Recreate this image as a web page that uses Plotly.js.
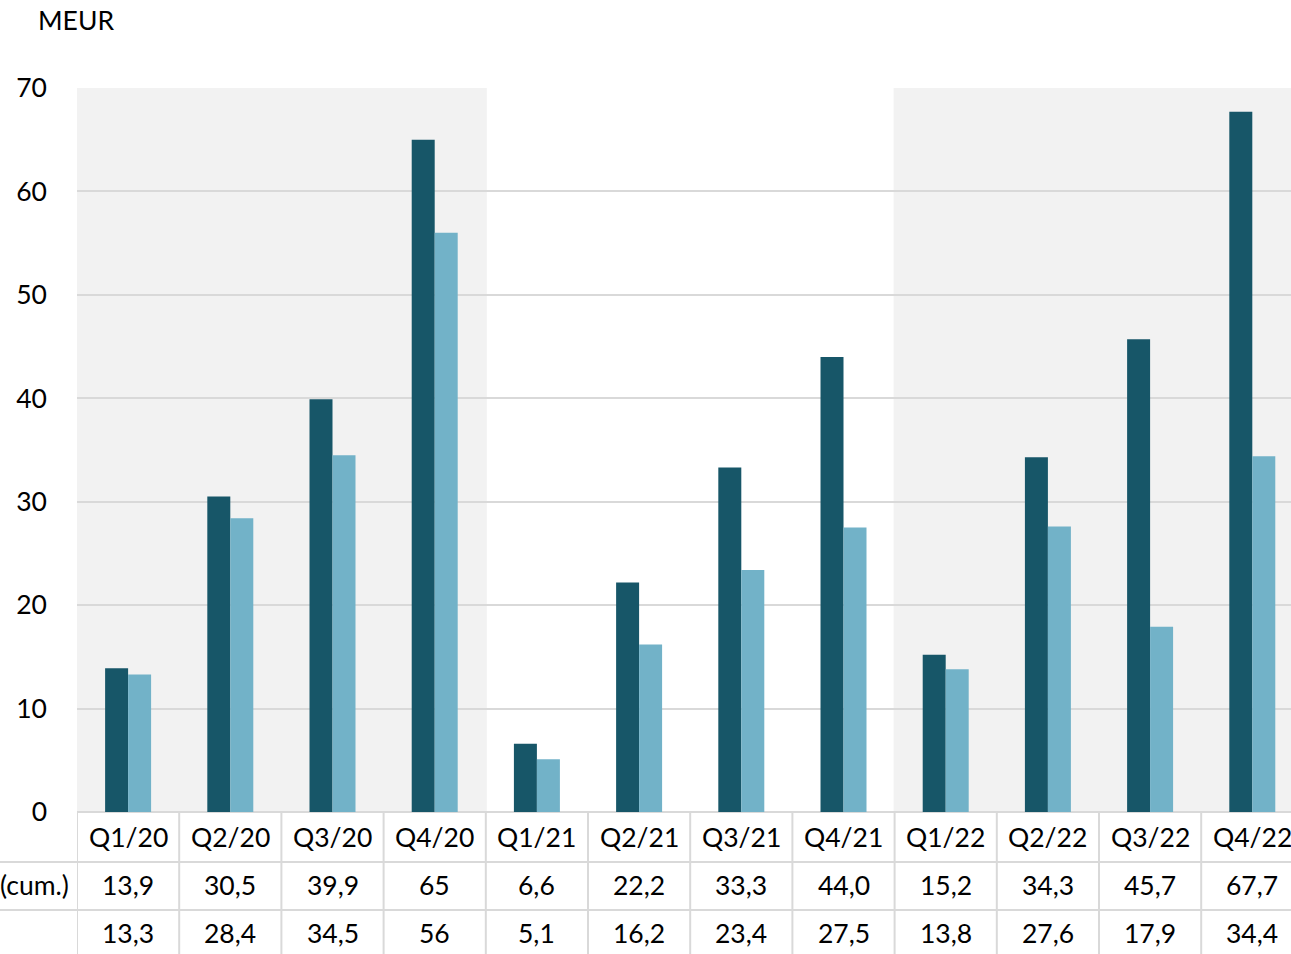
<!DOCTYPE html>
<html>
<head>
<meta charset="utf-8">
<script src="https://cdn.plot.ly/plotly-3.0.1.min.js"></script>
<style>html,body{margin:0;padding:0;background:#fff;}#chart{width:1291px;height:954px;}</style>
</head>
<body>
<div id="chart"></div>
<script>
var categories = ["Q1/20","Q2/20","Q3/20","Q4/20","Q1/21","Q2/21","Q3/21","Q4/21","Q1/22","Q2/22","Q3/22","Q4/22"];
var seriesCum = [13.9,30.5,39.9,65,6.6,22.2,33.3,44.0,15.2,34.3,45.7,67.7];
var seriesSecond = [13.3,28.4,34.5,56,5.1,16.2,23.4,27.5,13.8,27.6,17.9,34.4];
var row1Labels = ["13,9","30,5","39,9","65","6,6","22,2","33,3","44,0","15,2","34,3","45,7","67,7"];
var row2Labels = ["13,3","28,4","34,5","56","5,1","16,2","23,4","27,5","13,8","27,6","17,9","34,4"];
var rowNames = ["(cum.)", ""];
var yTicks = [0,10,20,30,40,50,60,70];
var unitLabel = "MEUR";

var FONT = "Lato, 'Open Sans', sans-serif";
var FS = 26.5;
var W = 1291, H = 954, ML = 77, MR = 0, MT = 88, MB = 142;
var plotH = H - MT - MB, plotW = W - ML - MR;
var catW = 102.2;
var xMax = -0.5 + plotW / catW;
function py(px){ return (H - MB - px) / plotH; }   // pixel y -> paper y
function pxp(px){ return (px - ML) / plotW; }       // pixel x -> paper x

var idx = categories.map(function(_, i){ return i; });
var traces = [
  {type:"bar", x: idx, y: seriesCum, marker:{color:"#175668"}, name:"cum", hoverinfo:"none"},
  {type:"bar", x: idx, y: seriesSecond, marker:{color:"#72b2c8"}, name:"second", hoverinfo:"none"}
];

var shapes = [
  {type:"rect", layer:"below", xref:"x", yref:"paper", x0:-0.5, x1:3.51, y0:0, y1:1, fillcolor:"#f2f2f2", line:{width:0}},
  {type:"rect", layer:"below", xref:"x", yref:"paper", x0:7.49, x1:xMax, y0:0, y1:1, fillcolor:"#f2f2f2", line:{width:0}}
];
var lineColor = "#d9d9d9";
for (var k = 0; k < categories.length; k++) {
  shapes.push({type:"line", xref:"x", yref:"paper", x0:k-0.5, x1:k-0.5, y0:0, y1:py(H+2), line:{color:lineColor, width:2}});
}
[862, 910].forEach(function(yy){
  shapes.push({type:"line", xref:"paper", yref:"paper", x0:pxp(-5), x1:1, y0:py(yy), y1:py(yy), line:{color:lineColor, width:2}});
});

var annotations = [];
annotations.push({xref:"paper", yref:"paper", x:pxp(36), y:py(20), xanchor:"left", yanchor:"middle", text:unitLabel, showarrow:false, font:{family:FONT, size:FS, color:"#000"}});
var rows = [
  {y:837, labels:categories},
  {y:885, labels:row1Labels},
  {y:933, labels:row2Labels}
];
rows.forEach(function(r){
  r.labels.forEach(function(t, i){
    annotations.push({xref:"x", yref:"paper", x:i, y:py(r.y), xanchor:"center", yanchor:"middle", text:t, showarrow:false, font:{family:FONT, size:FS, color:"#000"}});
  });
});
rowNames.forEach(function(t, j){
  if (!t) return;
  annotations.push({xref:"paper", yref:"paper", x:pxp(71), y:py(rows[j+1].y), xanchor:"right", yanchor:"middle", text:t, showarrow:false, font:{family:FONT, size:FS, color:"#000"}});
});

var layout = {
  width: W, height: H,
  margin: {l:ML, r:MR, t:MT, b:MB, pad:0},
  paper_bgcolor: "#ffffff",
  plot_bgcolor: "rgba(0,0,0,0)",
  showlegend: false,
  barmode: "group",
  bargap: 0.55,
  bargroupgap: 0,
  xaxis: {range:[-0.5, xMax], showticklabels:false, showgrid:false, zeroline:false, showline:false, ticks:"", fixedrange:true},
  yaxis: {range:[0,70], tickvals:yTicks, ticktext:yTicks.map(String), showgrid:true, gridcolor:"#d9d9d9", gridwidth:2, zeroline:true, zerolinecolor:"#d9d9d9", zerolinewidth:2, showline:false, ticks:"", ticklabelstandoff:29, tickfont:{family:FONT, size:FS, color:"#000"}, fixedrange:true},
  shapes: shapes,
  annotations: annotations
};
Plotly.newPlot("chart", traces, layout, {displayModeBar:false, staticPlot:true});
</script>
</body>
</html>
